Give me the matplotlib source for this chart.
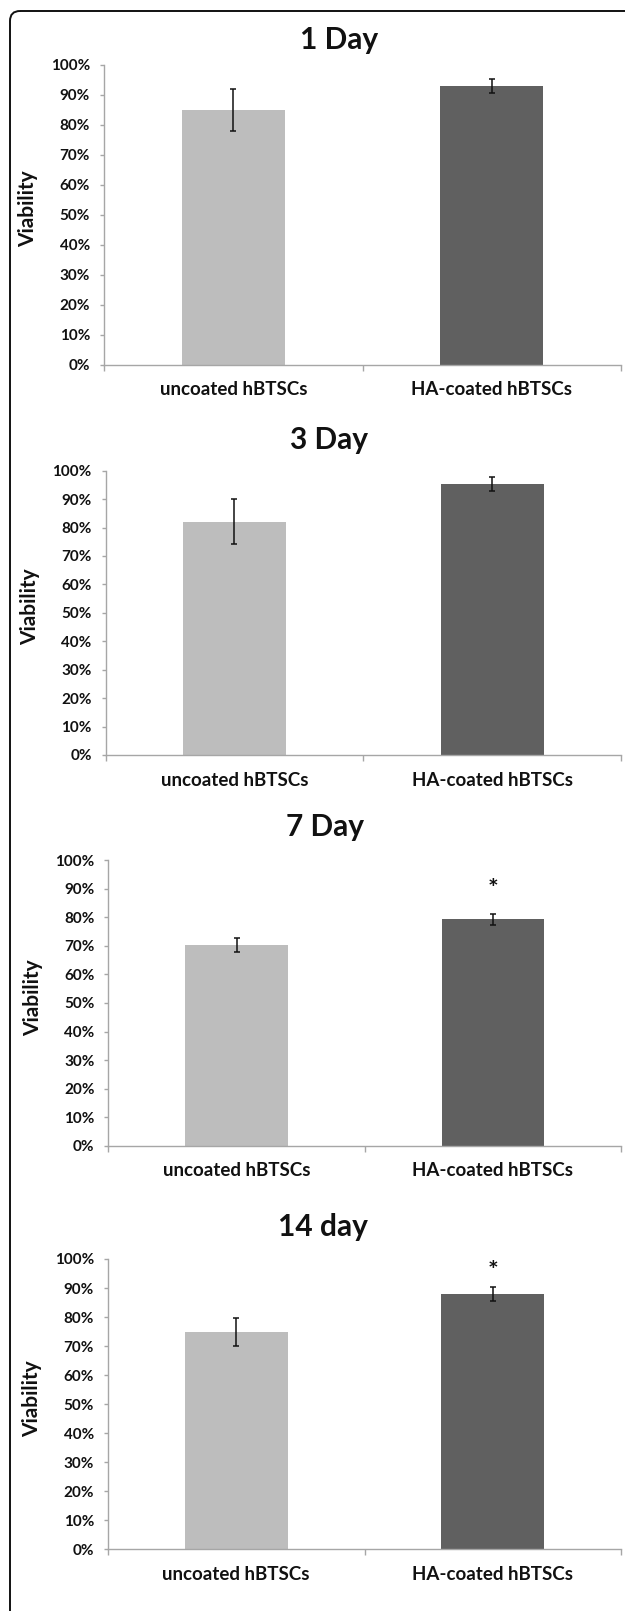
import matplotlib
matplotlib.use('Agg')
import matplotlib.pyplot as plt
from matplotlib.patches import FancyBboxPatch
from matplotlib.ticker import PercentFormatter

plt.rcParams['font.family'] = ['Lato', 'DejaVu Sans']
plt.rcParams['font.weight'] = 'bold'

# data (percent)
groups = ['uncoated hBTSCs', 'HA-coated hBTSCs']
titles = ['1 Day', '3 Day', '7 Day', '14 day']
uncoated = [85.0, 82.0, 70.2, 74.9]
uncoated_err = [6.9, 7.9, 2.5, 4.9]
coated = [93.1, 95.3, 79.3, 88.1]
coated_err = [2.35, 2.4, 1.8, 2.4]
star_level = [None, None, 89.6, 95.6]   # '*' marks above HA-coated bar

W, H = 625, 1611
# panel layout in pixels: axis left, top (100%), bottom (0%), title centre x/y
panels = [
    (104.0, 65.0, 364.5, 339, 40),
    (105.6, 470.7, 755.0, 329, 440),
    (108.4, 860.3, 1145.7, 325, 827),
    (108.0, 1259.0, 1549.3, 323, 1227),
]
axis_right = 621.0

light = '#bdbdbd'
dark = '#606060'
axis_col = '#a6a6a6'

fig = plt.figure(figsize=(W / 100, H / 100), dpi=100)

# rounded frame (only top/left visible, rest runs off the picture)
bg = fig.add_axes([0, 0, 1, 1])
bg.set_xlim(0, W)
bg.set_ylim(H, 0)
bg.axis('off')
bg.add_patch(FancyBboxPatch((10, 11), 700, 1612, boxstyle='round,pad=0,rounding_size=10',
                            fill=False, ec='#111111', lw=1.4))

for i in range(4):
    left, top, bottom, tx, ty = panels[i]
    ax = fig.add_axes([left / W, 1 - bottom / H, (axis_right - left) / W, (bottom - top) / H])
    vals = [uncoated[i], coated[i]]
    errs = [uncoated_err[i], coated_err[i]]
    ax.bar([0, 1], vals, width=0.4, color=[light, dark], zorder=2)
    ax.errorbar([0, 1], vals, yerr=errs, fmt='none', ecolor='#111111', elinewidth=1.1,
                capsize=2, capthick=1.1, zorder=3)
    if star_level[i] is not None:
        ax.text(1, star_level[i], '*', ha='center', va='center', fontsize=18, color='#111111')

    ax.set_xlim(-0.5, 1.5)
    ax.set_ylim(0, 100)
    ax.set_yticks(range(0, 101, 10))
    ax.yaxis.set_major_formatter(PercentFormatter(decimals=0))
    ax.set_xticks([0, 1])
    ax.set_xticklabels(groups)
    ax.set_xticks([-0.5, 0.5, 1.5], minor=True)

    for s in ['top', 'right']:
        ax.spines[s].set_visible(False)
    for s in ['left', 'bottom']:
        ax.spines[s].set_color(axis_col)
        ax.spines[s].set_linewidth(1.0)

    ax.tick_params(axis='y', length=3, width=1, color=axis_col, pad=7, labelsize=11,
                   labelcolor='#111111')
    ax.tick_params(axis='x', which='major', length=0, pad=12, labelsize=13.5,
                   labelcolor='#111111')
    ax.tick_params(axis='x', which='minor', length=4, width=1, color=axis_col)

    ax.set_ylabel('Viability', fontsize=15, fontweight='bold', color='#111111')
    ax.yaxis.set_label_coords(-0.128, 0.52)

    fig.text(tx / W, 1 - ty / H, titles[i], ha='center', va='center', fontsize=21.5,
             fontweight='bold', color='#111111')

fig.savefig('out.png', dpi=100)
